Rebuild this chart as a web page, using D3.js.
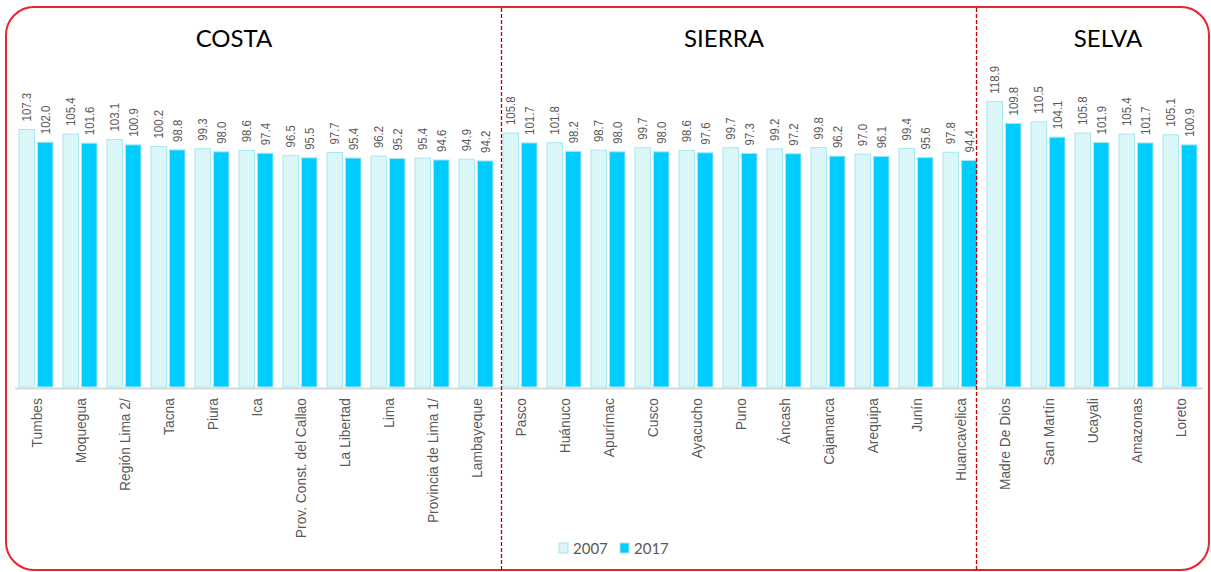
<!DOCTYPE html>
<html>
<head>
<meta charset="utf-8">
<script src="https://cdn.jsdelivr.net/npm/d3@7"></script>
<style>
  body { margin: 0; background: #fff; }
  text { font-family: "Liberation Sans", Arial, sans-serif; }
</style>
</head>
<body>
<script>
// regions and departments (left to right, as in the chart)
var costa = ["Tumbes", "Moquegua", "Región Lima 2/", "Tacna", "Piura", "Ica",
  "Prov. Const. del Callao", "La Libertad", "Lima", "Provincia de Lima 1/", "Lambayeque"];
var sierra = ["Pasco", "Huánuco", "Apurímac", "Cusco", "Ayacucho", "Puno",
  "Áncash", "Cajamarca", "Arequipa", "Junín", "Huancavelica"];
var selva = ["Madre De Dios", "San Martín", "Ucayali", "Amazonas", "Loreto"];

var years = ["2007", "2017"];

var v2007 = [107.3, 105.4, 103.1, 100.2, 99.3, 98.6, 96.5, 97.7, 96.2, 95.4, 94.9,
  105.8, 101.8, 98.7, 99.7, 98.6, 99.7, 99.2, 99.8, 97.0, 99.4, 97.8,
  118.9, 110.5, 105.8, 105.4, 105.1];
var v2017 = [102.0, 101.6, 100.9, 98.8, 98.0, 97.4, 95.5, 95.4, 95.2, 94.6, 94.2,
  101.7, 98.2, 98.0, 98.0, 97.6, 97.3, 97.2, 96.2, 96.1, 95.6, 94.4,
  109.8, 104.1, 101.9, 101.7, 100.9];

var regionTitles = ["COSTA", "SIERRA", "SELVA"];

var W = 1211, H = 572;
var cats = costa.concat(sierra, selva);

var data = cats.map(function(c, i) {
  return {cat: c, values: [{year: "2007", v: v2007[i]}, {year: "2017", v: v2017[i]}]};
});

var svg = d3.select("body").append("svg")
  .attr("width", W)
  .attr("height", H);

// scales
var x = d3.scaleBand()
  .domain(cats)
  .range([14.5, 1202.5]);

var x1 = d3.scaleBand()
  .domain(years)
  .range([4.5, 39.5])
  .paddingInner(0.1);

var y = d3.scaleLinear()
  .domain([0, 120])
  .range([387, 99]);

var fill = d3.scaleOrdinal().domain(years).range(["#dbf6f8", "#00ccff"]);

// rounded red frame
svg.append("rect")
  .attr("x", 6).attr("y", 7)
  .attr("width", 1203).attr("height", 563)
  .attr("rx", 28).attr("ry", 28)
  .attr("fill", "none")
  .attr("stroke", "#e3262d")
  .attr("stroke-width", 2);

// bars
var groups = svg.selectAll(".grp")
  .data(data)
  .enter().append("g")
  .attr("class", "grp")
  .attr("transform", function(d) { return "translate(" + x(d.cat) + ",0)"; });

groups.selectAll("rect")
  .data(function(d) { return d.values; })
  .enter().append("rect")
  .attr("x", function(d) { return x1(d.year); })
  .attr("y", function(d) { return y(d.v); })
  .attr("width", x1.bandwidth() - 1)
  .attr("height", function(d) { return y(0) - y(d.v); })
  .attr("fill", function(d) { return fill(d.year); })
  .attr("stroke", "#a8e8f0")
  .attr("stroke-width", 1);

// value labels (rotated)
groups.selectAll(".val")
  .data(function(d) { return d.values; })
  .enter().append("text")
  .attr("class", "val")
  .attr("transform", function(d) {
    var cx = x1(d.year) + (x1.bandwidth() - 1) / 2;
    return "translate(" + cx + "," + (y(d.v) - 8) + ") rotate(-90) scale(0.88,1)";
  })
  .attr("dy", "0.35em")
  .attr("text-anchor", "start")
  .attr("fill", "#595959")
  .style("font-size", "13px")
  .text(function(d) { return d.v.toFixed(1); });

// category axis
var axis = svg.append("g")
  .attr("transform", "translate(0," + 388 + ")")
  .call(d3.axisBottom(x).tickSize(0).tickSizeOuter(0));

axis.select(".domain")
  .attr("stroke", "#d9d9d9")
  .attr("stroke-width", 2);

axis.selectAll("text")
  .attr("transform", "rotate(-90) scale(0.92,1)")
  .attr("x", -11)
  .attr("y", 0)
  .attr("dy", "0.35em")
  .attr("text-anchor", "end")
  .attr("fill", "#595959")
  .style("font-family", "'Liberation Sans', Arial, sans-serif")
  .style("font-size", "15px");

// dashed dividers between regions
var dividers = [x(sierra[0]) + 3, x(selva[0]) - 6];
svg.selectAll(".div")
  .data(dividers)
  .enter().append("line")
  .attr("x1", function(d) { return d; })
  .attr("x2", function(d) { return d; })
  .attr("y1", 8).attr("y2", 572)
  .attr("stroke", "#c00000")
  .attr("stroke-width", 1.3)
  .attr("stroke-dasharray", "4,2");

// region titles
var titleX = [234, 724, 1108];
svg.selectAll(".title")
  .data(regionTitles)
  .enter().append("text")
  .attr("x", function(d, i) { return titleX[i]; })
  .attr("y", 47)
  .attr("text-anchor", "middle")
  .attr("fill", "#000")
  .style("font-family", "Lato, 'Open Sans', sans-serif")
  .style("font-size", "24px")
  .text(function(d) { return d; });

// legend
var legend = svg.selectAll(".leg")
  .data(years)
  .enter().append("g")
  .attr("transform", function(d, i) { return "translate(" + (559 + i * 61) + ",543)"; });

legend.append("rect")
  .attr("width", 9).attr("height", 10)
  .attr("fill", function(d) { return fill(d); })
  .attr("stroke", "#a8e8f0");

legend.append("text")
  .attr("x", 14)
  .attr("y", 10.5)
  .attr("fill", "#595959")
  .style("font-family", "Lato, 'Open Sans', sans-serif")
  .style("font-size", "15px")
  .text(function(d) { return d; });
</script>
</body>
</html>
